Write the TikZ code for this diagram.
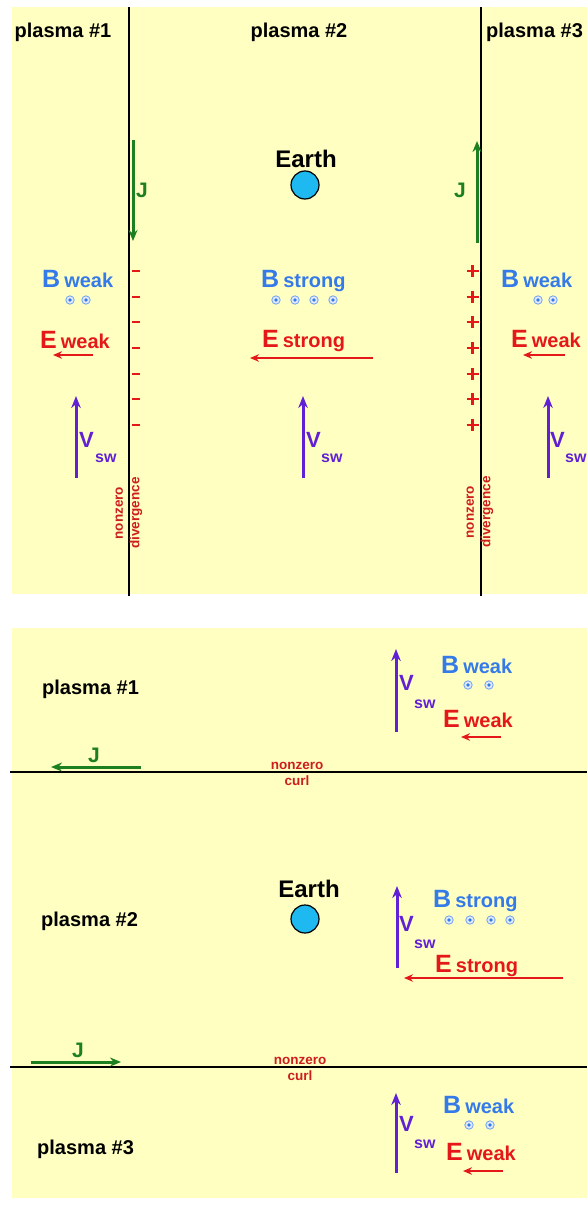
\documentclass[tikz,border=0pt]{standalone}
\usepackage{fontspec}
\setmainfont{Liberation Sans}
\usetikzlibrary{arrows.meta}
\definecolor{panel}{RGB}{255,255,194}
\definecolor{bcol}{RGB}{52,122,232}
\definecolor{ecol}{RGB}{228,24,24}
\definecolor{dcol}{RGB}{205,30,30}
\definecolor{jcol}{RGB}{28,128,32}
\definecolor{vcol}{RGB}{98,32,212}
\definecolor{earthcol}{RGB}{30,185,240}
\begin{document}
\begin{tikzpicture}[x=1pt,y=-1pt,
  boundary/.style={line width=2.3pt,black},
  title/.style={inner sep=0,font=\bfseries\fontsize{20}{20}\selectfont},
  earthlbl/.style={inner sep=0,anchor=base,font=\bfseries\fontsize{24}{24}\selectfont},
  globe/.style={circle,draw=black,line width=1.2pt,fill=earthcol,minimum size=28pt,inner sep=0},
  jarrow/.style={jcol,line width=3pt,-{Stealth[length=11pt,width=9pt]}},
  jlbl/.style={inner sep=0,anchor=base west,text=jcol,font=\bfseries\fontsize{21}{21}\selectfont},
  varrow/.style={vcol,line width=3pt,-{Stealth[length=12pt,width=9.5pt]}},
  vlbl/.style={inner sep=0,anchor=base west,text=vcol,font=\bfseries\fontsize{22}{22}\selectfont},
  swlbl/.style={inner sep=0,anchor=base west,text=vcol,font=\bfseries\fontsize{16}{16}\selectfont},
  earrow/.style={ecol,line width=2.5pt,-{Stealth[length=9pt,width=7.5pt]}},
  blbl/.style={inner sep=0,anchor=base west,text=bcol},
  elbl/.style={inner sep=0,anchor=base west,text=ecol},
  note/.style={inner sep=0,align=center,text=dcol,font=\bfseries\fontsize{13.5}{16.5}\selectfont},
  minus/.style={ecol,line width=2.8pt},
  bdot/.pic={\draw[bcol!70,line width=0.8pt,fill=bcol!15] (0,0) circle (4.2pt);
             \fill[bcol] (0,0) circle (1.9pt);}
]
\newcommand{\bigletter}[1]{{\bfseries\fontsize{25}{25}\selectfont #1}}
\newcommand{\smallword}[1]{{\bfseries\fontsize{20}{20}\selectfont #1}}
\useasboundingbox (0,0) rectangle (587,1206);
\fill[white] (0,0) rectangle (587,1206);

% ---------- upper panel: boundaries parallel to the flow ----------
\fill[panel] (12,7) rectangle (587,594);
\draw[boundary] (129,7) -- (129,596);
\draw[boundary] (481,7) -- (481,596);

\node[title,anchor=base] (ta1) at (63,38) {plasma \#1};
\node[title,anchor=base] (ta2) at (299,38) {plasma \#2};
\begin{scope}
\clip (0,0) rectangle (587,1206);
\node[title,anchor=base west] (ta3) at (486,38) {plasma \#3};
\end{scope}

\node[earthlbl] (ea) at (306,168) {Earth};
\node[globe] (ga) at (305,185) {};

% currents along the boundaries
\coordinate (j1s) at (133,140); \coordinate (j1e) at (133,241);
\coordinate (j2s) at (477,243); \coordinate (j2e) at (477,141);
\draw[jarrow] (j1s) -- (j1e);
\draw[jarrow] (j2s) -- (j2e);
\node[jlbl] (jl1) at (136,198) {J};
\node[jlbl] (jl2) at (454,198) {J};

% surface charges
\foreach \yy in {271,297,322,348,374,399,425} {
  \draw[minus] (132,\yy) -- (139.5,\yy);
  \draw[minus] (466.5,\yy) -- (478.5,\yy);
  \draw[minus] (472.5,\yy-6) -- (472.5,\yy+6);
}

\node[note,rotate=90] (dv1) at (129,513) {nonzero\\divergence};
\node[note,rotate=90] (dv2) at (480,512) {nonzero\\divergence};

% magnetic field labels and dots
\node[blbl] (ba1) at (42,287) {\bigletter{B}\hspace{4pt}\smallword{weak}};
\node[blbl] (ba2) at (261,287) {\bigletter{B}\hspace{4pt}\smallword{strong}};
\node[blbl] (ba3) at (501,287) {\bigletter{B}\hspace{4pt}\smallword{weak}};
\foreach \xx in {70,86} \pic at (\xx,300) {bdot};
\foreach \xx in {276,295,314,333} \pic at (\xx,300) {bdot};
\foreach \xx in {538,553} \pic at (\xx,300) {bdot};

% electric field labels and arrows
\node[elbl] (eA1) at (40,348) {\bigletter{E}\hspace{4pt}\smallword{weak}};
\node[elbl] (eA2) at (262,347) {\bigletter{E}\hspace{4pt}\smallword{strong}};
\node[elbl] (eA3) at (511,347) {\bigletter{E}\hspace{4pt}\smallword{weak}};
\coordinate (ea1s) at (93,355);  \coordinate (ea1e) at (53,355);
\coordinate (ea2s) at (373,358); \coordinate (ea2e) at (250,358);
\coordinate (ea3s) at (565,355); \coordinate (ea3e) at (523,355);
\draw[earrow] (ea1s) -- (ea1e);
\draw[earrow] (ea2s) -- (ea2e);
\draw[earrow] (ea3s) -- (ea3e);

% solar wind velocity
\coordinate (va1s) at (76,478);  \coordinate (va1e) at (76,396);
\coordinate (va2s) at (303,478); \coordinate (va2e) at (303,396);
\coordinate (va3s) at (548,478); \coordinate (va3e) at (548,396);
\draw[varrow] (va1s) -- (va1e);
\draw[varrow] (va2s) -- (va2e);
\draw[varrow] (va3s) -- (va3e);
\node[vlbl] (vv1) at (79,447) {V};   \node[swlbl] (sw1) at (95,462) {sw};
\node[vlbl] (vv2) at (306,447) {V};  \node[swlbl] (sw2) at (321,462) {sw};
\node[vlbl] (vv3) at (550,447) {V};  \node[swlbl] (sw3) at (565,462) {sw};

% ---------- lower panel: boundaries across the flow ----------
\fill[panel] (12,628) rectangle (587,1198);
\draw[boundary] (10,772) -- (587,772);
\draw[boundary] (10,1067) -- (587,1067);

\node[title,anchor=base west] (tb1) at (42,694) {plasma \#1};
\node[title,anchor=base west] (tb2) at (41,926) {plasma \#2};
\node[title,anchor=base west] (tb3) at (37,1154) {plasma \#3};

\node[earthlbl] (eb) at (309,897) {Earth};
\node[globe] (gb) at (305,919) {};

\coordinate (j3s) at (141,767); \coordinate (j3e) at (51,767);
\coordinate (j4s) at (31,1062); \coordinate (j4e) at (121,1062);
\draw[jarrow] (j3s) -- (j3e);
\draw[jarrow] (j4s) -- (j4e);
\node[jlbl] (jl3) at (88,762) {J};
\node[jlbl] (jl4) at (72,1057) {J};

\node[note] (cu1) at (297,774) {nonzero\\curl};
\node[note] (cu2) at (300,1069) {nonzero\\curl};

% plasma #1 (lower)
\coordinate (vb1s) at (396,732); \coordinate (vb1e) at (396,649);
\draw[varrow] (vb1s) -- (vb1e);
\node[vlbl] (vw1) at (399,690) {V};  \node[swlbl] (sx1) at (414,708) {sw};
\node[blbl] (bb1) at (441,673) {\bigletter{B}\hspace{4pt}\smallword{weak}};
\foreach \xx in {468,489} \pic at (\xx,685) {bdot};
\node[elbl] (eb1) at (443,727) {\bigletter{E}\hspace{4pt}\smallword{weak}};
\coordinate (eb1s) at (501,737); \coordinate (eb1e) at (461,737);
\draw[earrow] (eb1s) -- (eb1e);

% plasma #2 (lower)
\coordinate (vb2s) at (397,968); \coordinate (vb2e) at (397,886);
\draw[varrow] (vb2s) -- (vb2e);
\node[vlbl] (vw2) at (399,931) {V};  \node[swlbl] (sx2) at (414,948) {sw};
\node[blbl] (bb2) at (433,907) {\bigletter{B}\hspace{4pt}\smallword{strong}};
\foreach \xx in {449,470,491,510} \pic at (\xx,920) {bdot};
\node[elbl] (eb2) at (435,972) {\bigletter{E}\hspace{4pt}\smallword{strong}};
\coordinate (eb2s) at (563,978); \coordinate (eb2e) at (404,978);
\draw[earrow] (eb2s) -- (eb2e);

% plasma #3 (lower)
\coordinate (vb3s) at (396,1173); \coordinate (vb3e) at (396,1093);
\draw[varrow] (vb3s) -- (vb3e);
\node[vlbl] (vw3) at (399,1131) {V};  \node[swlbl] (sx3) at (414,1148) {sw};
\node[blbl] (bb3) at (443,1113) {\bigletter{B}\hspace{4pt}\smallword{weak}};
\foreach \xx in {469,490} \pic at (\xx,1125) {bdot};
\node[elbl] (eb3) at (446,1160) {\bigletter{E}\hspace{4pt}\smallword{weak}};
\coordinate (eb3s) at (503,1171); \coordinate (eb3e) at (463,1171);
\draw[earrow] (eb3s) -- (eb3e);
\end{tikzpicture}
\end{document}
